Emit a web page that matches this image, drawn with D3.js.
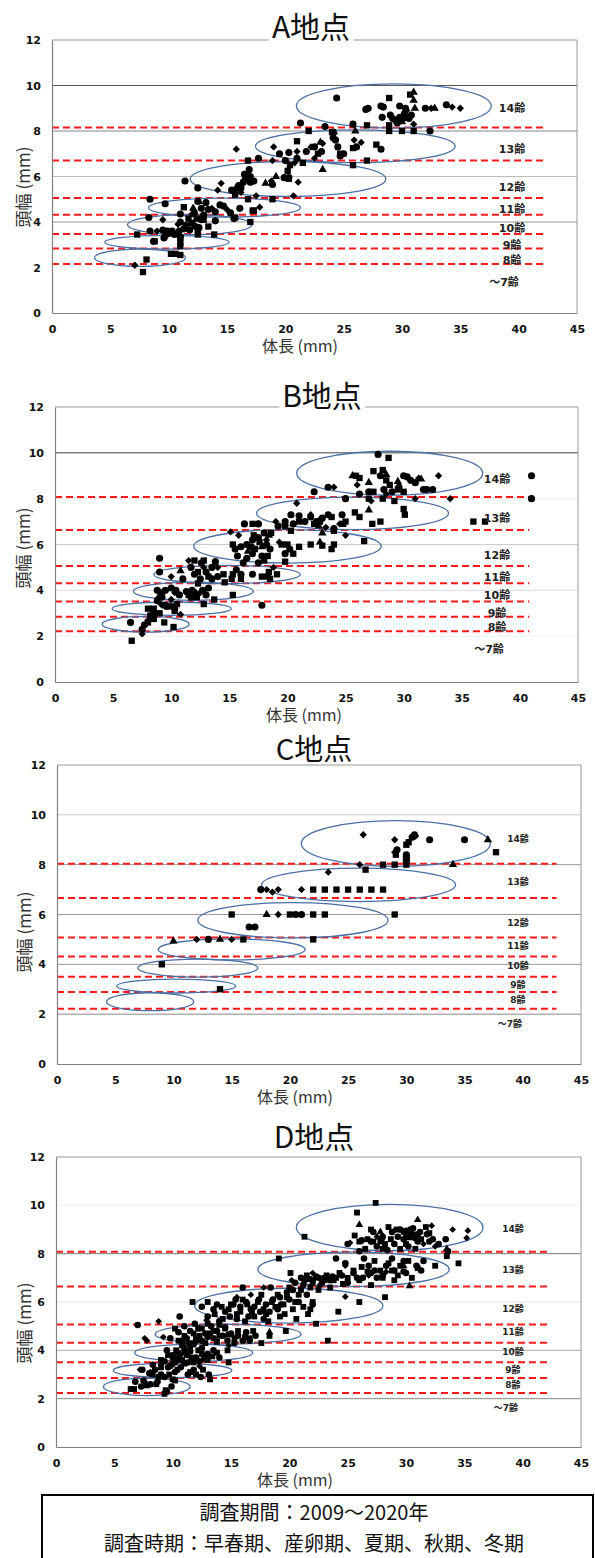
<!DOCTYPE html>
<html><head><meta charset="utf-8">
<script src="https://cdn.jsdelivr.net/npm/d3@7"></script>
<style>body{margin:0;background:#fff}svg{display:block}</style>
</head><body>
<svg id="chart" width="595" height="1558"></svg>
<script>
const xTicks = [0,5,10,15,20,25,30,35,40,45];
const yTicks = [0,2,4,6,8,10,12];
const ageLabels = ["～7齢","8齢","9齢","10齢","11齢","12齢","13齢","14齢"];
const footerLines = ["調査期間：2009～2020年","調査時期：早春期、産卵期、夏期、秋期、冬期"];

// ---------- A地点 ----------
const aCircles = [[24.4,9.45],[26.9,8.95],[27.1,9.0],[28.2,9.1],[28.4,9.05],[29.8,9.1],[30.3,9.0],[32.0,9.0],[33.8,9.15],
 [28.3,8.6],[29.2,8.55],[29.5,8.45],[29.8,8.6],[30.0,8.5],[30.3,8.6],[30.6,8.55],[30.8,8.7],[29.6,8.35],[30.2,8.75],[29.0,8.7],
 [25.8,8.3],[32.4,8.0],[21.3,8.35],[23.4,8.2],[24.1,7.95],[24.1,7.7],[24.5,7.3],[25.0,7.0],[24.7,6.9],[26.1,7.3],[28.2,7.2],
 [23.1,7.1],[22.5,7.3],[21.8,7.1],[19.5,7.0],[20.3,7.05],[20.0,6.7],[21.0,6.8],[17.7,6.8],[24.3,7.6],
 [11.4,5.8],[12.5,5.5],[16.6,5.9],[16.9,6.3],[17.0,5.75],[15.9,5.5],[15.4,5.4],[16.2,5.5],[16.7,6.0],[17.3,5.8],[18.9,5.65],
 [19.9,5.95],[20.3,5.95],[16.5,6.1],[15.6,5.35],[16.0,5.6],[17.0,6.0],[16.4,5.75],
 [8.4,5.0],[9.7,4.8],[12.5,4.9],[13.2,4.85],[13.4,4.55],[14.4,4.75],[14.7,4.7],[12.2,4.4],[11.0,4.35],[15.3,4.4],[16.1,4.6],
 [13.0,4.3],[14.0,4.45],[12.8,4.6],[8.3,4.2],[8.4,3.6],[9.5,3.65],[9.9,3.6],[10.3,3.6],[10.9,3.6],[11.3,3.7],[11.8,3.65],
 [12.3,3.8],[12.6,3.75],[11.0,4.0],[12.8,4.1],[14.0,4.05],[15.6,4.15],[10.0,3.5],[11.5,3.85],[12.0,3.95],
 [8.7,3.15],[9.6,3.3],[11.0,3.35],[10.5,3.45],[9.7,3.4]];
const aSquares = [[30.7,9.6],[28.9,9.45],[27.0,8.25],[28.9,8.25],[22.0,8.0],[30.0,8.0],[31.0,8.0],[24.0,7.95],[28.9,8.0],
 [21.0,7.55],[27.8,7.4],[25.8,6.5],[27.0,6.7],[16.8,6.7],[20.4,6.5],[24.7,7.0],[25.8,7.25],[22.8,7.0],[20.2,6.25],[21.5,6.6],
 [16.8,5.0],[17.2,4.5],[20.3,5.9],[15.7,5.2],[18.9,5.0],[11.3,4.65],[17.3,4.5],[15.7,4.2],[11.7,4.15],
 [13.0,4.1],[12.4,4.15],[13.4,3.8],[17.0,4.0],[7.3,3.45],[12.5,3.45],[13.9,3.45],[12.5,3.65],
 [11.0,3.1],[11.0,2.95],[8.8,3.15],[11.0,3.3],[10.2,2.6],[10.6,2.6],[11.0,2.55],[8.1,2.35],[7.8,1.8]];
const aDiamonds = [[32.5,9.0],[34.3,9.05],[35.0,9.0],[31.0,8.3],[30.4,8.9],
 [15.8,7.2],[19.0,7.3],[23.2,7.45],[24.2,7.9],[26.5,7.5],[21.0,7.1],[18.9,6.7],[20.8,6.6],[22.5,6.8],[25.9,7.6],[22.2,7.3],
 [14.5,5.7],[14.2,5.4],[17.5,5.15],[18.8,5.8],[21.1,5.75],[20.7,5.15],[16.2,5.3],
 [17.8,4.65],[15.0,4.55],[13.7,4.6],[9.5,4.1],[12.0,4.35],[10.8,3.9],[9.0,3.6],[7.1,2.1]];
const aTriangles = [[31.0,9.7],[31.0,9.35],[31.1,9.0],[32.8,9.0],[26.0,8.0],[23.2,6.3],[19.2,6.0],[18.3,5.7],[23.0,7.5],[12.6,4.9],[12.1,4.6],[30.0,8.4]];
const aCutoffs = [2.15,2.84,3.47,4.32,5.06,6.70,8.15];
const aEllipses = [[7.54,2.43,3.9,0.38],[9.85,3.11,5.32,0.30],[11.8,3.88,5.32,0.44],[14.78,4.63,6.51,0.42],[20.23,5.89,8.38,0.77],[26.0,7.33,8.56,0.72],[29.3,9.1,8.35,0.97]];
const aLabelY = [1.37,2.34,3.0,3.75,4.57,5.53,7.2,9.0];

// ---------- B地点 ----------
const bCircles = [[27.8,9.93],[22.3,8.3],[23.5,8.5],[28.0,9.0],[27.0,8.3],[30.0,9.0],[30.3,8.95],[30.6,8.8],[31.0,8.7],[31.7,8.4],
 [32.0,8.4],[32.5,8.4],[29.0,8.3],[41.0,9.0],[41.0,8.0],[25.0,8.0],[26.2,8.2],[29.6,8.5],[28.3,8.4],
 [20.3,7.3],[22.0,7.2],[23.5,7.3],[24.7,7.3],[19.2,6.8],[20.5,6.9],[21.5,7.0],[22.5,7.0],[17.5,6.9],[16.3,6.9],[24.0,6.7],
 [21.0,7.25],[23.0,7.15],[19.8,7.0],
 [15.5,5.8],[16.0,5.9],[16.5,6.0],[17.0,6.2],[17.5,6.3],[18.0,6.5],[17.0,5.6],[16.5,5.4],[17.8,5.5],[18.5,5.8],[19.8,5.6],
 [20.2,5.8],[15.7,5.5],[16.2,5.2],[17.5,5.2],[16.8,5.9],[18.2,6.0],
 [9.0,5.4],[11.7,5.0],[12.6,5.2],[13.0,4.8],[13.5,5.0],[12.0,4.7],[11.0,4.5],[12.5,4.5],[14.0,4.6],[13.5,4.5],[17.0,4.7],
 [16.0,4.7],[15.6,4.9],[13.8,5.25],
 [8.8,4.0],[9.5,4.0],[10.0,4.1],[10.7,3.8],[11.3,3.95],[11.8,4.0],[12.0,3.9],[12.7,4.0],[13.0,3.8],[13.2,4.1],[9.2,3.7],
 [11.7,3.7],[17.8,3.35],[10.4,4.0],[8.8,3.55],[9.0,4.8],[10.3,3.2],[8.5,3.0],[9.6,3.3],
 [6.5,2.6],[7.5,2.3],[7.7,2.5],[8.4,2.8]];
const bSquares = [[28.7,9.78],[27.4,9.2],[28.2,9.25],[25.9,9.0],[26.2,8.9],[28.5,8.8],[27.4,8.3],[28.8,8.6],[29.5,8.4],[30.0,8.3],
 [27.0,8.0],[28.2,8.0],[29.2,7.9],[36.0,7.0],[37.0,7.0],[30.0,7.55],[30.1,7.3],[28.0,7.0],[27.3,6.9],
 [21.0,7.0],[23.8,7.2],[25.0,7.0],[25.8,7.4],[26.2,7.2],[17.0,6.9],[24.0,6.6],[22.3,6.9],[20.3,6.6],[19.8,6.8],[24.8,6.9],[22.8,7.0],
 [17.1,6.4],[18.6,6.5],[19.5,6.0],[20.0,6.0],[21.0,5.9],[22.0,6.0],[23.0,5.95],[24.0,6.0],[20.5,5.6],[26.6,6.15],[23.8,5.8],
 [18.0,5.3],[18.3,5.5],[17.2,5.8],[15.3,6.0],[19.8,5.25],[17.6,6.1],
 [12.0,5.3],[12.8,5.3],[12.3,4.8],[13.2,4.6],[15.2,4.5],[16.0,4.5],[18.4,4.8],[18.3,4.6],[19.1,4.7],[17.8,4.6],[14.5,4.7],
 [12.3,4.3],[14.6,4.35],[15.3,4.7],[18.5,4.5],
 [9.2,3.9],[11.5,3.8],[12.2,3.7],[12.8,3.4],[13.7,3.6],[15.3,3.8],[10.5,3.4],
 [8.0,3.2],[8.5,3.2],[9.0,3.0],[8.2,2.9],[10.0,3.3],[10.3,3.1],[9.4,3.35],
 [8.0,2.6],[8.5,2.75],[9.4,2.6],[10.2,2.4],[6.6,1.8]];
const bDiamonds = [[33.0,9.0],[34.0,8.0],[31.0,8.0],[26.0,8.6],[27.2,7.9],[28.5,8.2],[31.3,8.9],[24.0,8.5],
 [20.8,7.8],[22.0,7.3],[17.5,6.9],[19.0,7.0],[22.8,7.1],[24.5,6.9],[23.3,6.75],
 [15.1,6.55],[15.8,6.4],[17.0,5.9],[18.2,6.2],[19.3,6.1],[25.0,6.4],
 [11.5,5.3],[12.8,5.0],[14.0,5.0],[10.0,4.6],[18.8,5.0],[10.3,3.9],[12.4,3.85],[10.0,3.6],
 [10.8,2.95],[9.1,3.4],[7.5,2.1],[8.0,2.7]];
const bTriangles = [[25.6,9.0],[27.0,8.7],[28.5,9.05],[31.5,8.85],[27.0,7.5],[23.0,6.5],[18.4,6.4],[22.7,6.8],[16.6,5.7],[17.8,5.9],[22.8,6.1],[10.8,4.85],[8.9,3.7],[29.5,8.75]];
const bCutoffs = [2.21,2.85,3.51,4.31,5.06,6.63,8.07];
const bEllipses = [[7.8,2.52,3.75,0.34],[10.04,3.2,5.12,0.29],[11.9,3.96,5.16,0.4],[14.8,4.69,6.3,0.4],[20.0,5.92,8.07,0.73],[25.6,7.36,8.26,0.71],[28.8,9.11,8.0,0.96]];
const bLabelY = [1.46,2.39,3.03,3.81,4.58,5.53,7.16,8.86];

// ---------- C地点 ----------
const cCircles = [[30.7,9.2],[30.5,9.1],[32.0,9.0],[35.0,9.0],[30.0,8.4],[30.0,8.3],[30.0,8.2],[30.0,8.1],[17.5,7.0],[20.5,6.0],[21.0,6.0],[16.5,5.5],[17.0,5.5],[13.0,5.0],[29.2,8.6]];
const cSquares = [[30.2,8.9],[30.0,8.8],[37.7,8.5],[29.1,8.4],[28.0,8.0],[29.0,8.0],[30.0,8.0],[26.5,7.8],[22,7],[23,7],[24,7],[25,7],[26,7],[27,7],[28,7],
 [15,6],[20,6],[22,6],[23,6],[29,6],[16,5],[22,5],[9,4],[14,3]];
const cDiamonds = [[26.3,9.2],[29.0,9.0],[29.0,8.5],[26.0,8.0],[23.3,7.7],[18.0,7.0],[18.5,6.9],[19.0,7.0],[21.0,7.0],[19.0,6.0],[12.0,5.0],[15.0,5.0],[30.8,9.15]];
const cTriangles = [[37.0,9.0],[34.0,8.0],[18.0,6.0],[10.0,4.93],[14.0,5.0]];
const cCutoffs = [2.22,2.89,3.50,4.31,5.08,6.66,8.04];
const cEllipses = [[8.0,2.5,3.75,0.36],[10.24,3.13,5.11,0.28],[12.1,3.85,5.15,0.36],[15.0,4.6,6.3,0.42],[20.26,5.77,8.17,0.71],[25.9,7.19,8.33,0.67],[29.1,8.85,8.12,0.92]];
const cLabelY = [1.62,2.58,3.19,3.95,4.74,5.68,7.31,9.03];

// ---------- D地点 ----------
const dCircles = [[25.0,8.4],[26.2,8.55],[27.0,8.5],[28.0,8.7],[28.8,8.9],[29.5,9.0],[30.0,8.95],[30.5,8.8],[31.2,8.9],[31.8,8.8],
 [32.3,8.6],[33.4,8.6],[29.0,8.4],[30.2,8.3],[31.0,8.5],[27.5,8.3],[26.0,8.1],[28.4,8.15],[32.8,8.4],[29.8,8.6],[33.6,8.1],[27.2,8.9],[30.6,9.05],
 [27.9,8.6],[29.3,8.7],[30.8,8.65],[32.0,8.5],
 [24.0,7.8],[23.0,7.0],[22.0,6.9],[21.3,6.9],[24.5,7.1],[25.5,7.2],[26.3,7.0],[27.3,7.3],[28.3,7.5],[29.8,7.26],[30.9,7.5],[31.5,7.7],
 [30.0,7.2],[26.8,7.5],[25.0,6.8],[23.5,6.9],[22.5,7.0],[20.5,6.8],[21.0,7.0],[28.8,7.8],[27.5,7.0],[24.8,7.6],[26.4,7.8],
 [22.3,7.05],[23.7,7.05],[25.8,7.0],[27.0,7.2],[28.0,7.1],[29.0,7.3],[29.8,7.7],[31.3,7.3],
 [12.5,5.8],[13.5,5.7],[14.5,5.6],[15.2,5.9],[15.8,5.8],[16.3,6.0],[17.0,5.8],[17.5,5.6],[18.0,5.9],[18.6,6.1],[19.2,6.2],
 [19.8,6.4],[20.3,6.5],[16.5,5.4],[15.5,5.3],[14.0,5.2],[17.8,5.3],[19.0,5.7],[20.8,6.0],[21.5,6.3],[18.4,6.6],[16.0,6.6],[13.0,5.4],[22.0,5.9],
 [15.4,6.1],[16.7,5.7],[17.4,6.1],[18.3,5.6],[19.3,5.9],[20.0,6.1],[21.2,6.7],[14.9,5.4],[13.8,5.9],
 [10.5,4.75],[11.5,4.8],[12.2,4.9],[12.8,4.7],[13.3,5.0],[13.8,4.8],[14.3,4.6],[15.0,4.7],[15.6,4.6],[16.3,4.75],[17.1,4.6],
 [11.2,4.5],[12.5,4.4],[14.7,4.4],[9.8,4.5],[13.5,4.5],[7.0,5.05],[11.9,5.1],[10.6,5.4],[16.0,4.4],
 [12.0,4.4],[13.0,4.55],[14.5,4.95],[15.3,4.3],[16.6,4.4],[10.8,4.4],[11.0,5.0],
 [9.5,4.0],[10.0,3.8],[10.5,3.9],[11.0,4.1],[11.5,3.95],[12.0,3.7],[12.5,4.1],[13.0,3.85],[13.5,4.0],[10.8,3.6],[9.3,3.55],
 [11.8,4.25],[14.0,3.7],[12.3,3.55],[10.3,3.65],[11.3,3.5],[12.7,3.65],[9.8,3.35],
 [8.0,3.05],[8.5,3.2],[9.0,3.0],[9.6,3.3],[10.2,3.1],[10.7,3.3],[11.3,3.0],[11.8,3.2],[12.4,2.9],[8.3,3.4],[9.3,2.9],[10.0,3.45],[13.1,3.0],[7.4,3.2],
 [6.8,2.7],[7.5,2.75],[8.1,2.6],[9.5,2.3],[9.9,2.5],[8.7,2.7],[7.3,2.5]];
const dSquares = [[27.4,10.1],[25.8,9.7],[21.3,8.7],[25.6,8.75],[26.7,8.6],[27.8,8.5],[28.5,9.1],[29.2,9.0],[30.0,8.7],[31.3,8.6],
 [32.0,8.85],[29.5,8.2],[28.2,8.4],[30.8,8.2],[26.5,8.2],[33.5,7.9],[27.0,9.0],[31.7,9.1],
 [27.2,8.5],[28.7,8.6],[29.8,8.9],[30.4,9.0],[31.0,8.8],[30.0,8.4],[28.0,8.2],[26.0,8.5],
 [19.1,7.8],[34.5,7.6],[25.5,7.3],[26.0,6.9],[27.0,6.7],[28.0,7.0],[29.0,6.9],[28.5,7.6],[27.3,7.7],[29.5,7.5],[30.5,7.0],
 [21.5,7.1],[22.8,6.8],[23.8,6.9],[24.3,7.2],[20.1,7.2],[26.2,7.45],[30.2,7.7],[23.5,6.6],
 [22.0,6.8],[23.0,6.9],[24.0,7.0],[25.0,7.0],[24.6,6.75],[23.2,7.1],[21.7,6.95],[27.8,7.3],[28.8,7.3],[26.7,7.25],[29.3,7.1],[31.0,7.4],[32.5,7.5],
 [28.2,6.2],[26.0,6.0],[24.2,5.6],[22.3,5.1],[23.3,4.4],[11.7,6.0],[13.0,6.0],[14.8,5.7],[15.5,5.5],[16.8,5.6],[17.3,6.0],
 [18.0,5.5],[18.8,5.8],[19.5,5.9],[20.3,5.7],[21.2,5.8],[21.6,5.5],[20.8,6.3],[22.0,6.0],[19.2,5.4],[16.2,5.2],[17.6,6.3],[14.3,5.3],[20.0,6.6],
 [15.0,5.9],[15.8,5.6],[16.4,5.9],[17.0,5.4],[17.8,5.7],[18.5,6.0],[19.0,6.3],[19.8,6.2],[20.5,6.0],[21.0,6.5],[21.8,6.6],[22.5,6.5],
 [16.0,6.1],[14.2,5.8],[13.6,5.5],[18.2,5.2],[19.6,5.5],[20.6,5.3],[21.8,5.7],
 [10.5,4.4],[11.0,4.6],[12.0,4.5],[12.5,4.9],[13.2,4.7],[13.8,4.35],[14.5,4.9],[15.3,4.5],[16.6,4.5],[17.6,4.3],[19.7,4.8],
 [18.3,4.6],[14.0,5.05],[12.8,4.3],[10.2,4.9],
 [11.8,4.7],[12.3,4.6],[13.5,4.8],[14.0,4.6],[14.8,4.65],[15.6,4.8],[16.2,4.55],[16.9,4.8],[13.0,5.1],[11.5,4.3],
 [9.6,3.8],[10.3,4.0],[11.0,3.9],[11.6,3.7],[12.2,4.0],[13.0,3.6],[13.8,3.9],[14.7,4.0],[14.8,3.5],[12.8,3.75],[9.0,3.6],[10.8,4.2],[11.5,4.1],
 [10.0,3.7],[10.6,3.75],[11.2,3.8],[12.5,3.85],[13.4,3.75],[10.2,3.5],[11.8,3.5],
 [8.3,3.0],[9.0,3.3],[9.7,3.0],[10.4,3.2],[11.5,3.1],[12.0,3.0],[12.6,3.2],[13.2,2.8],[10.0,2.8],[8.8,2.9],[11.0,3.45],
 [6.4,2.4],[6.7,2.4],[9.3,2.2],[9.4,2.35],[8.6,2.6],[10.2,2.75],[7.8,2.55]];
const dDiamonds = [[34.0,9.0],[35.3,8.95],[35.2,8.65],[32.2,9.16],[30.0,8.85],[31.5,8.4],[27.5,8.7],[25.2,8.45],[32.5,8.3],[29.0,8.95],
 [24.8,7.5],[24.8,6.22],[28.3,7.25],[22.0,7.2],[20.2,6.9],[17.8,6.6],[15.5,6.2],[16.7,6.3],[26.8,7.1],
 [8.8,5.2],[7.6,4.5],[7.8,4.4],[9.2,4.55],[11.3,4.3],[12.9,5.25],[14.8,4.2],[9.0,3.4],[7.2,3.2],[7.6,2.7],[8.1,3.1],[10.5,3.6],[12.3,3.35]];
const dTriangles = [[31.0,9.4],[26.0,9.2],[29.8,7.49],[30.3,6.66],[33.5,8.2],[18.3,4.75],[30.3,8.65],[27.8,8.9],[22.6,6.7]];
const dCutoffs = [2.23,2.86,3.51,4.31,5.07,6.64,8.08];
const dEllipses = [[7.78,2.49,3.72,0.36],[9.99,3.17,5.08,0.3],[11.8,3.9,5.05,0.36],[14.75,4.67,6.25,0.41],[19.95,5.85,8.07,0.72],[25.5,7.35,8.2,0.71],[28.6,9.08,8.0,0.96]];
const dLabelY = [1.61,2.57,3.19,3.95,4.75,5.70,7.33,9.05];

const panels = [
 {title:"A地点", circles:aCircles, squares:aSquares, diamonds:aDiamonds, triangles:aTriangles, cutoffs:aCutoffs, ellipses:aEllipses, labelY:aLabelY,
  left:52, right:577, top:40, bottom:313, titleX:311, titleY:38, titleSize:30, xLabX:300, yLabX:24, yLabY:187,
  labX:512, tildeX:504, labSize:11, redEnd:42.4, ms:1.0,
  grid:{2:null,4:"#999",6:"#bbb",8:"#888",10:"#555"}},
 {title:"B地点", circles:bCircles, squares:bSquares, diamonds:bDiamonds, triangles:bTriangles, cutoffs:bCutoffs, ellipses:bEllipses, labelY:bLabelY,
  left:55, right:578, top:407, bottom:682, titleX:322, titleY:407, titleSize:30, xLabX:304, yLabX:24, yLabY:548,
  labX:497, tildeX:489, labSize:11, redEnd:40.8, ms:1.0,
  grid:{2:"#eee",4:"#ddd",6:"#ccc",8:"#eee",10:"#444"}},
 {title:"C地点", circles:cCircles, squares:cSquares, diamonds:cDiamonds, triangles:cTriangles, cutoffs:cCutoffs, ellipses:cEllipses, labelY:cLabelY,
  left:57, right:581, top:765, bottom:1064, titleX:314, titleY:760, titleSize:29, xLabX:295, yLabX:25, yLabY:932,
  labX:518, tildeX:510, labSize:9, redEnd:42.9, ms:1.0,
  grid:{2:"#888",4:"#999",6:"#999",8:"#999",10:"#ccc"}},
 {title:"D地点", circles:dCircles, squares:dSquares, diamonds:dDiamonds, triangles:dTriangles, cutoffs:dCutoffs, ellipses:dEllipses, labelY:dLabelY,
  left:56, right:581, top:1157, bottom:1447, titleX:314, titleY:1148, titleSize:30, xLabX:295, yLabX:25, yLabY:1323,
  labX:513, tildeX:506, labSize:9, redEnd:42.1, ms:0.85,
  grid:{2:"#888",4:"#aaa",6:"#e4e4e4",8:"#777",10:"#f0f0f0"}}
];

const svg = d3.select("#chart");
const cjk = "'Noto Sans CJK JP','Noto Sans',sans-serif";
const tickFont = "'DejaVu Sans','Noto Sans CJK JP',sans-serif";
const diamondType = d3.symbolDiamond2 || d3.symbolDiamond;

panels.forEach(p => {
  const x = d3.scaleLinear().domain([0,45]).range([p.left,p.right]);
  const y = d3.scaleLinear().domain([0,12]).range([p.bottom,p.top]);
  const g = svg.append("g");

  yTicks.filter(t => t>0 && t<12 && p.grid[t]).forEach(t => {
    g.append("line").attr("x1",x(0)).attr("x2",x(45)).attr("y1",y(t)).attr("y2",y(t))
     .attr("stroke",p.grid[t]).attr("stroke-width",1);
  });
  g.append("line").attr("x1",x(0)).attr("x2",x(45)).attr("y1",y(12)).attr("y2",y(12)).attr("stroke","#999");
  g.append("line").attr("x1",x(45)).attr("x2",x(45)).attr("y1",y(12)).attr("y2",y(0)).attr("stroke","#999");

  g.selectAll(".cut").data(p.cutoffs).join("line")
   .attr("x1",x(0)).attr("x2",x(p.redEnd)).attr("y1",d=>y(d)).attr("y2",d=>y(d))
   .attr("stroke","#ff1a1a").attr("stroke-width",2).attr("stroke-dasharray","7,4");

  g.selectAll(".ell").data(p.ellipses).join("ellipse")
   .attr("cx",d=>x(d[0])).attr("cy",d=>y(d[1]))
   .attr("rx",d=>x(d[2])-x(0)).attr("ry",d=>y(0)-y(d[3]))
   .attr("fill","none").attr("stroke","#4a6fa5").attr("stroke-width",1.3);

  const sets = [
    [p.circles, d3.symbolCircle, 40],
    [p.squares, d3.symbolSquare, 40],
    [p.diamonds, diamondType, 34],
    [p.triangles, d3.symbolTriangle, 30]
  ];
  sets.forEach(([data, type, size]) => {
    g.append("g").selectAll("path").data(data).join("path")
     .attr("d", d3.symbol().type(type).size(size*p.ms))
     .attr("transform", d => `translate(${x(d[0])},${y(d[1])})`)
     .attr("fill","#000");
  });

  const ay = d3.axisLeft(y).tickValues(yTicks).tickSize(0).tickPadding(11);
  const ax = d3.axisBottom(x).tickValues(xTicks).tickSize(0).tickPadding(12);
  const gy = g.append("g").attr("transform",`translate(${x(0)},0)`).call(ay);
  const gx = g.append("g").attr("transform",`translate(0,${y(0)})`).call(ax);
  [gx,gy].forEach(a => {
    a.select(".domain").attr("stroke","#808080").attr("stroke-width",1.2);
    a.selectAll("text").attr("font-family",tickFont).attr("font-weight","bold").attr("font-size",11).attr("fill","#111");
  });

  ageLabels.forEach((lab,i) => {
    g.append("text").attr("x", i===0 ? p.tildeX : p.labX).attr("y", y(p.labelY[i]))
     .attr("dy","0.36em").attr("text-anchor","middle")
     .attr("font-family",tickFont).attr("font-weight","bold").attr("font-size",p.labSize)
     .attr("fill","#222").text(lab);
  });

  g.append("text").attr("x",p.xLabX).attr("y",y(0)+39).attr("text-anchor","middle")
   .attr("font-family",cjk).attr("font-size",16).attr("fill","#333").text("体長 (mm)");
  g.append("text").attr("transform",`translate(${p.yLabX},${p.yLabY}) rotate(-90)`).attr("text-anchor","middle")
   .attr("dy","0.35em").attr("font-family",cjk).attr("font-size",17).attr("fill","#333").text("頭幅 (mm)");

  const bg = g.append("rect").attr("fill","#fff");
  const tt = g.append("text").attr("x",p.titleX).attr("y",p.titleY).attr("text-anchor","middle")
   .attr("font-family",cjk).attr("font-size",p.titleSize).attr("fill","#111").text(p.title);
  const bb = tt.node().getBBox();
  const bgTop = bb.y + 6;
  bg.attr("x",bb.x-3).attr("y",bgTop).attr("width",bb.width+6).attr("height",p.titleY + 3 - bgTop);
});

svg.append("rect").attr("x",42).attr("y",1495).attr("width",551).attr("height",70)
  .attr("fill","#fff").attr("stroke","#000").attr("stroke-width",2);
footerLines.forEach((t,i) => {
  svg.append("text").attr("x",314).attr("y",1520 + i*31).attr("text-anchor","middle")
   .attr("font-family",cjk).attr("font-size",20).attr("fill","#111").text(t);
});
</script>
</body></html>
